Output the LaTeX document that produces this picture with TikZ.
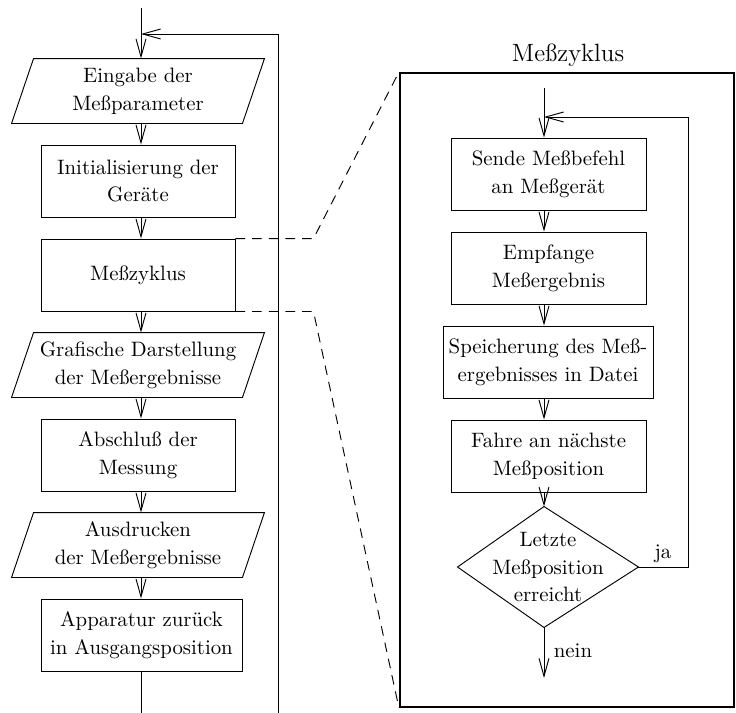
\documentclass[tikz,border=0pt]{standalone}
\usetikzlibrary{arrows.meta,calc}
\begin{document}
\begin{tikzpicture}[x=0.48pt,y=-0.48pt,
  line width=0.45pt,
  txt/.style={align=center,font=\fontsize{10}{13.3}\selectfont,inner sep=0pt},
  procbox/.style={txt,draw,rectangle,minimum height=34.56pt,minimum width=93.12pt},
  iobox/.style={txt,rectangle,minimum height=30.72pt,minimum width=120.96pt},
  flow/.style={-{Straight Barb[length=8.6pt,width=4.8pt]}},
  zoomline/.style={dash pattern=on 4.6pt off 3.4pt},
  framebox/.style={draw,line width=1pt,rectangle,minimum width=160.32pt,minimum height=304.32pt,inner sep=0pt},
]
\useasboundingbox (0,0) rectangle (736,713);

% ---------- left column ----------
\coordinate (col) at (141,0);
\coordinate (start) at (141,8);
\coordinate (join) at (141,34);
\coordinate (lbot) at (278,713);
\coordinate (lend) at (141,713);

\node[iobox] (p1) at (138,91) {Eingabe der\\Meßparameter};
\node[procbox] (b2) at (138,181) {Initialisierung der\\Geräte};
\node[procbox] (b3) at (138,275) {Meßzyklus};
\node[iobox] (p2) at (138,365) {Grafische Darstellung\\der Meßergebnisse};
\node[procbox] (b5) at (138,455) {Abschluß der\\Messung};
\node[iobox] (p3) at (138,545) {Ausdrucken\\der Meßergebnisse};
\node[procbox,minimum width=96.48pt] (b7) at (141.5,635) {Apparatur zurück\\in Ausgangsposition};

\foreach \p in {p1,p2,p3}{
  \draw ([xshift=10.56pt]\p.north west) -- (\p.north east)
        -- ([xshift=-10.56pt]\p.south east) -- (\p.south west) -- cycle;
}

\draw[flow] (start) -- (p1.north -| col);
\draw[flow] (lbot) |- (join);
\draw[flow] (p1.south -| col) -- (b2.north -| col);
\draw[flow] (b2.south -| col) -- (b3.north -| col);
\draw[flow] (b3.south -| col) -- (p2.north -| col);
\draw[flow] (p2.south -| col) -- (b5.north -| col);
\draw[flow] (b5.south -| col) -- (p3.north -| col);
\draw[flow] (p3.south -| col) -- (b7.north -| col);
\draw (b7.south -| col) -- (lend);

% ---------- zoomed frame ----------
\node[framebox] (fr) at (567,390) {};
\node[font=\large,inner sep=0pt] (title) at (568,55) {Meßzyklus};

\draw[zoomline] (b3.north east) -- ++(78,0) -- (fr.north west);
\draw[zoomline] (b3.south east) -- ++(78,0) -- (fr.south west);

% ---------- right column ----------
\coordinate (rcol) at (544,0);
\coordinate (rstart) at (544,88);
\coordinate (rloop) at (688,117);
\coordinate (rjoin) at (544,117);
\coordinate (rend) at (544,678);

\node[procbox,minimum width=93.6pt] (s1) at (548.5,174) {Sende Meßbefehl\\an Meßgerät};
\node[procbox,minimum width=93.6pt] (s2) at (548.5,268) {Empfange\\Meßergebnis};
\node[procbox,minimum width=100.8pt] (s3) at (548,362) {Speicherung des Meß-\\ergebnisses in Datei};
\node[procbox,minimum width=93.6pt] (s4) at (548.5,456) {Fahre an nächste\\Meßposition};
\node[txt,rectangle,minimum width=86.4pt,minimum height=57.6pt] (d) at (548,567) {Letzte\\Meßposition\\erreicht};
\draw (d.north -| rcol) -- (d.east) -- (d.south -| rcol) -- (d.west) -- cycle;

\draw[flow] (rstart) -- (s1.north -| rcol);
\draw[flow] (s1.south -| rcol) -- (s2.north -| rcol);
\draw[flow] (s2.south -| rcol) -- (s3.north -| rcol);
\draw[flow] (s3.south -| rcol) -- (s4.north -| rcol);
\draw[flow] (s4.south -| rcol) -- (d.north -| rcol);
\draw[flow] (d.east) -| (rloop) -- (rjoin);
\draw[flow] (d.south -| rcol) -- (rend);

\node[txt,anchor=base] (ja) at (663,558) {ja};
\node[txt,anchor=base] (nein) at (573,657) {nein};
\end{tikzpicture}
\end{document}
